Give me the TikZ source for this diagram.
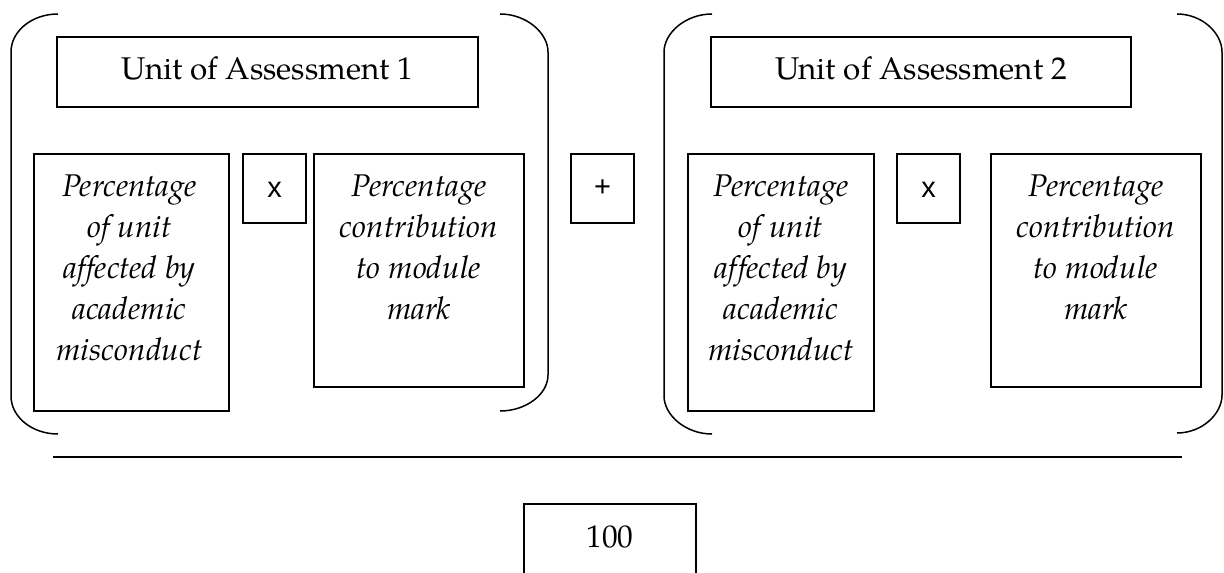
\documentclass[tikz,border=0pt]{standalone}
\usepackage{fontspec}
\setmainfont{texgyrepagella}[Extension=.otf, UprightFont=*-regular, ItalicFont=*-italic, BoldFont=*-bold, BoldItalicFont=*-bolditalic, Ligatures=NoCommon]
\newfontfamily\sansx{Liberation Sans}
\usetikzlibrary{fit}
\begin{document}
\begin{tikzpicture}[x=0.5pt,y=-0.5pt,
  box/.style={draw, line width=0.7pt, inner sep=0pt, rectangle},
  brk/.style={line width=0.75pt},
  rule/.style={line width=1.1pt},
  title/.style={font=\fontsize{15.7}{20.5}\selectfont, inner sep=0pt, anchor=base},
  itext/.style={font=\itshape\fontsize{15.7}{20.5}\selectfont, align=center, inner sep=0pt, anchor=north},
  op/.style={font=\sansx\fontsize{14.5}{16}\selectfont, inner sep=0pt}]
\useasboundingbox (0,0) rectangle (1224,572);
\clip (0,0) rectangle (1224,572);
% group 1
\node[box, fit={(57,37) (478,107)}] (u1) {};
\node[title] (u1t) at (267.5,80) {Unit of Assessment 1};
\node[box, fit={(34,154) (229,411)}] (p1) {};
\node[itext] (p1t) at (129.5,174) {Percentage\\of unit\\affected by\\academic\\misconduct};
\node[box, fit={(243,154) (306,223)}] (x1) {};
\node[op] (x1t) at ([yshift=-0.5pt]x1.center) {x};
\node[box, fit={(314,154) (524,387)}] (c1) {};
\node[itext] (c1t) at (419,174) {Percentage\\contribution\\to module\\mark};
% plus
\node[box, fit={(571,154) (634,223)}] (pl) {};
\node[op] (plt) at (pl.center) {+};
% group 2
\node[box, fit={(711,37) (1131,107)}] (u2) {};
\node[title] (u2t) at (921,80) {Unit of Assessment 2};
\node[box, fit={(688,154) (874,411)}] (p2) {};
\node[itext] (p2t) at (781,174) {Percentage\\of unit\\affected by\\academic\\misconduct};
\node[box, fit={(897,154) (960,223)}] (x2) {};
\node[op] (x2t) at ([yshift=-0.5pt]x2.center) {x};
\node[box, fit={(991,154) (1201,387)}] (c2) {};
\node[itext] (c2t) at (1096,174) {Percentage\\contribution\\to module\\mark};
% brackets
\draw[brk] (58,14) .. controls (32,14) and (11,31) .. (11,52) -- (11,396) .. controls (11,417) and (32,434) .. (58,434);
\draw[brk] (500,14) .. controls (526.5,14) and (548,33) .. (548,52) -- (548,375) .. controls (548,394) and (526.5,411) .. (500,411);
\draw[brk] (712,14) .. controls (685.5,14) and (664,33) .. (664,52) -- (664,396) .. controls (664,415) and (685.5,434) .. (712,434);
\draw[brk] (1177,14) .. controls (1202,14) and (1222,33) .. (1222,52) -- (1222,395) .. controls (1222,414) and (1202,433) .. (1177,433);
% fraction rule
\coordinate (rl) at (53,457);
\coordinate (rr) at (1182,457);
\draw[rule] (rl) -- (rr);
% denominator
\node[box, fit={(524,504) (696,600)}] (h) {};
\node[title] (ht) at (610,547) {100};
\end{tikzpicture}
\end{document}
